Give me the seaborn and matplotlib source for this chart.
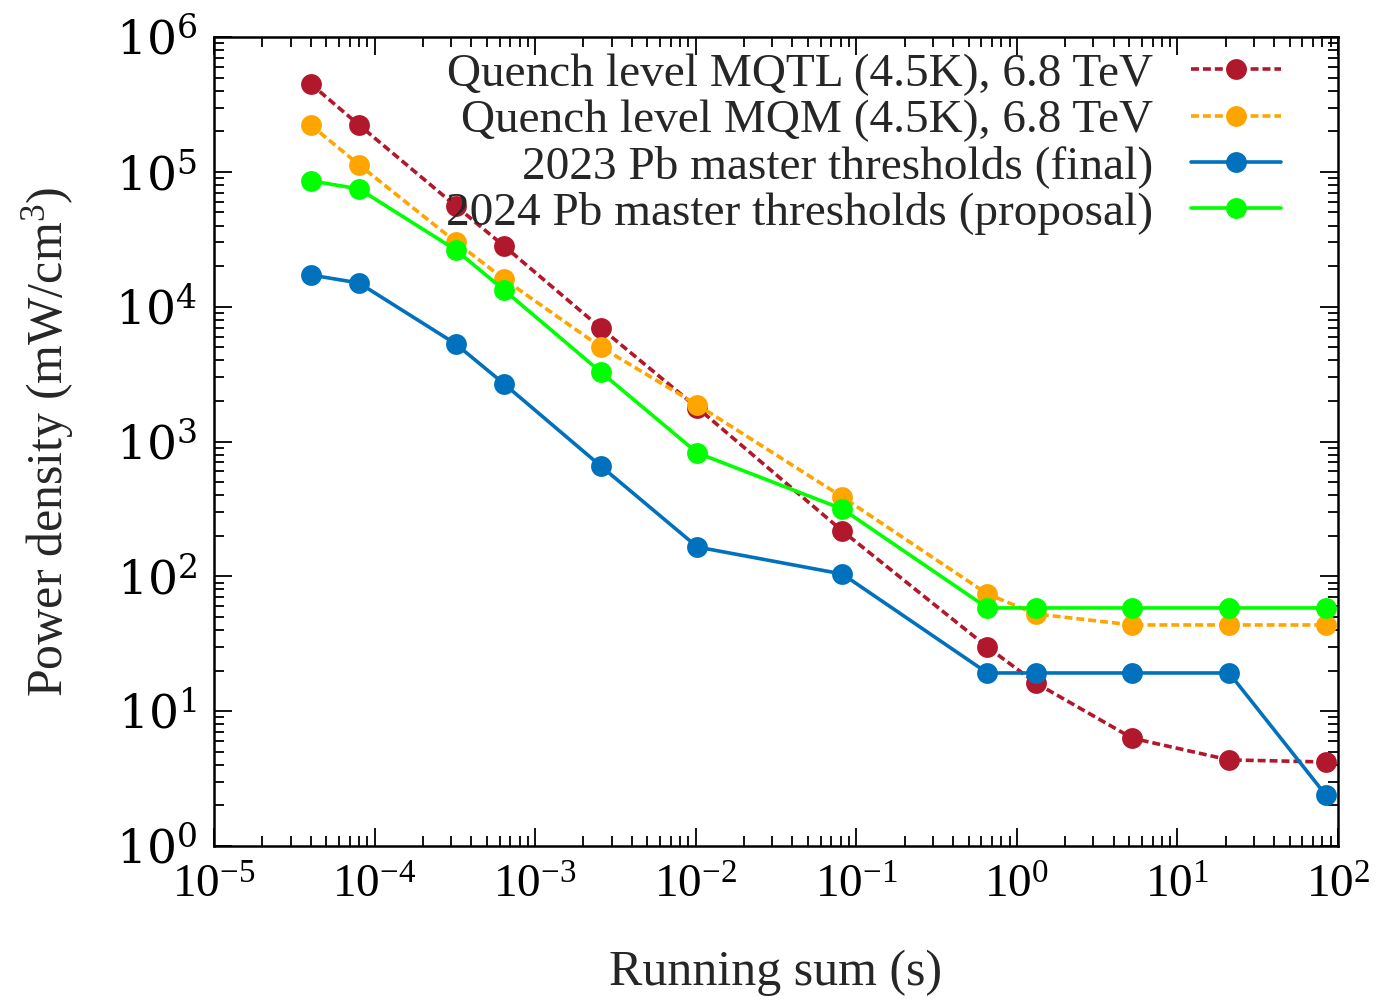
import numpy as np
import pandas as pd
import matplotlib
matplotlib.use("Agg")
import matplotlib.pyplot as plt
import matplotlib.ticker as mticker
import seaborn as sns

running_sum = [4e-5, 8e-5, 3.2e-4, 6.4e-4, 2.56e-3, 1.024e-2, 8.192e-2,
               0.65536, 1.31072, 5.24288, 20.97152, 83.88608]
mqtl = [4.5e5, 2.23e5, 5.6e4, 2.82e4, 6.96e3, 1.78e3, 217, 29.9, 16.2, 6.3, 4.35, 4.2]
mqm = [2.23e5, 1.13e5, 3.03e4, 1.6e4, 5.03e3, 1.87e3, 388, 74, 52.6, 43.6, 43.6, 43.6]
pb2023 = [1.72e4, 1.5e4, 5.3e3, 2.68e3, 659, 165, 104, 19.2, 19.2, 19.2, 19.2, 2.39]
pb2024 = [8.58e4, 7.48e4, 2.64e4, 1.33e4, 3.28e3, 823, 316, 58.3, 58.3, 58.3, 58.3, 58.3]

labels = ["Quench level MQTL (4.5K), 6.8 TeV",
          "Quench level MQM (4.5K), 6.8 TeV",
          "2023 Pb master thresholds (final)",
          "2024 Pb master thresholds (proposal)"]
colors = ["#B2182B", "#FFA500", "#0072BD", "#00FF00"]
series = [mqtl, mqm, pb2023, pb2024]
dashed = [True, True, False, False]

sns.set_theme(style="ticks")
plt.rcParams['font.family'] = ['Liberation Serif', 'DejaVu Serif']
plt.rcParams['mathtext.fontset'] = 'custom'
plt.rcParams['mathtext.rm'] = 'Liberation Serif'
plt.rcParams['mathtext.it'] = 'Liberation Serif:italic'
plt.rcParams['mathtext.sf'] = 'DejaVu Serif'

fig = plt.figure(figsize=(13.76, 10.02), dpi=100)
ax = fig.add_axes([0.1555, 0.1557, 0.9724 - 0.1555, 0.963 - 0.1557])

for lab, col, vals, dsh in zip(labels, colors, series, dashed):
    df = pd.DataFrame({"x": running_sum, "y": vals})
    sns.lineplot(data=df, x="x", y="y", ax=ax, color=col, marker="o",
                 markersize=15, markeredgewidth=0, linewidth=2.6,
                 linestyle=(0, (2.2, 1.1)) if dsh else "-", label=lab)

ax.set_xscale("log")
ax.set_yscale("log")
ax.set_xlim(1e-5, 1e2)
ax.set_ylim(1e0, 1e6)

ax.xaxis.set_major_locator(mticker.LogLocator(base=10, numticks=20))
ax.yaxis.set_major_locator(mticker.LogLocator(base=10, numticks=20))
ax.xaxis.set_minor_locator(mticker.LogLocator(base=10, subs=np.arange(2, 10), numticks=100))
ax.yaxis.set_minor_locator(mticker.LogLocator(base=10, subs=np.arange(2, 10), numticks=100))
ax.xaxis.set_minor_formatter(mticker.NullFormatter())
ax.yaxis.set_minor_formatter(mticker.NullFormatter())
ax.xaxis.set_major_formatter(mticker.FuncFormatter(lambda v, p: r'$10^{%d}$' % round(np.log10(v))))
ax.yaxis.set_major_formatter(mticker.FuncFormatter(lambda v, p: r'$\mathsf{10^{%d}}$' % round(np.log10(v))))

ax.tick_params(which='both', direction='in', top=True, right=True, width=1.3, colors='black')
ax.tick_params(which='major', length=13, labelsize=34)
ax.tick_params(axis='x', which='major', pad=14)
ax.tick_params(axis='y', which='major', pad=12)
ax.tick_params(which='minor', length=7)
for s in ax.spines.values():
    s.set_linewidth(1.8)
    s.set_color('black')

ax.set_xlabel("Running sum (s)", fontsize=36, labelpad=30)
ax.set_ylabel(r"Power density (mW/cm$^{3}$)", fontsize=36, labelpad=28)

leg = ax.legend(loc="upper right", frameon=False, markerfirst=False, fontsize=34,
                handlelength=1.9, handletextpad=0.8, labelspacing=0.07,
                borderaxespad=0.0, bbox_to_anchor=(0.966, 1.004))

fig.savefig("out.png", dpi=100)
